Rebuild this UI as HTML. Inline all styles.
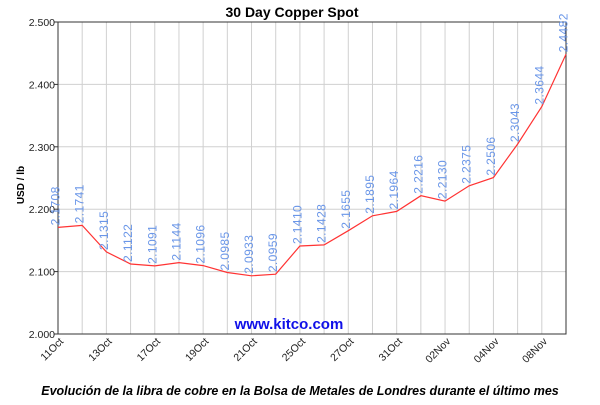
<!DOCTYPE html>
<html><head><meta charset="utf-8"><style>
html,body{margin:0;padding:0;background:#fff;}
svg{display:block;font-family:"Liberation Sans",sans-serif;}
</style></head><body>
<svg id="c" width="600" height="405" xmlns="http://www.w3.org/2000/svg">
<text x="292" y="17" font-size="14" font-weight="bold" text-anchor="middle">30 Day Copper Spot</text>
<g id="grid" stroke="#d0d0d0" stroke-width="1"></g>
<rect x="58" y="22" width="508" height="312" fill="none" stroke="#333" stroke-width="1"/>
<g id="yt" font-size="10.5" fill="#222" text-anchor="end"></g>
<text transform="translate(24,185) rotate(-90)" font-size="10" font-weight="bold" text-anchor="middle">USD / lb</text>
<polyline id="ln" fill="none" stroke="#ff3333" stroke-width="1.2"/>
<g id="vl" font-size="12" fill="#6a96e8" letter-spacing="0.4"></g>
<g id="xl" font-size="10.5" fill="#222" text-anchor="end"></g>
<text x="289" y="329" font-size="15" font-weight="bold" fill="#1010e8" text-anchor="middle">www.kitco.com</text>
<text x="300" y="395" font-size="12.5" font-weight="bold" font-style="italic" text-anchor="middle">Evolución de la libra de cobre en la Bolsa de Metales de Londres durante el último mes</text>
</svg>
<script>
var v=[2.1708,2.1741,2.1315,2.1122,2.1091,2.1144,2.1096,2.0985,2.0933,2.0959,2.1410,2.1428,2.1655,2.1895,2.1964,2.2216,2.2130,2.2375,2.2506,2.3043,2.3644,2.4482];
var xl=["11Oct","13Oct","17Oct","19Oct","21Oct","25Oct","27Oct","31Oct","02Nov","04Nov","08Nov"];
var L=58,R=566,T=22,B=334,dx=(R-L)/21;
function Y(a){return B-(a-2)/0.5*(B-T);}
var ns="http://www.w3.org/2000/svg";
function el(t,a,p,txt){var e=document.createElementNS(ns,t);for(var k in a)e.setAttribute(k,a[k]);if(txt)e.textContent=txt;document.getElementById(p).appendChild(e);}
for(var i=1;i<21;i++){var x=L+i*dx;el("line",{x1:x,x2:x,y1:T,y2:B},"grid");}
for(var j=0;j<=5;j++){var y=Y(2+j*0.1);if(j>0&&j<5)el("line",{x1:L,x2:R,y1:y,y2:y},"grid");el("text",{x:55,y:y+4},"yt",(2+j*0.1).toFixed(3));el("line",{x1:54,x2:58,y1:y,y2:y,stroke:"#333"},"grid");}
var pts=[];
for(var i=0;i<v.length;i++){var x=L+i*dx,y=Y(v[i]);pts.push(x.toFixed(1)+","+y.toFixed(1));
el("text",{transform:"translate("+(x+1.5)+","+(y-2)+") rotate(-90)"},"vl",v[i].toFixed(4));}
document.getElementById("ln").setAttribute("points",pts.join(" "));
for(var k=0;k<xl.length;k++){var x=L+2*k*dx;el("text",{transform:"translate("+(x+6)+","+(B+8)+") rotate(-45)"},"xl",xl[k]);}
</script>
</body></html>
